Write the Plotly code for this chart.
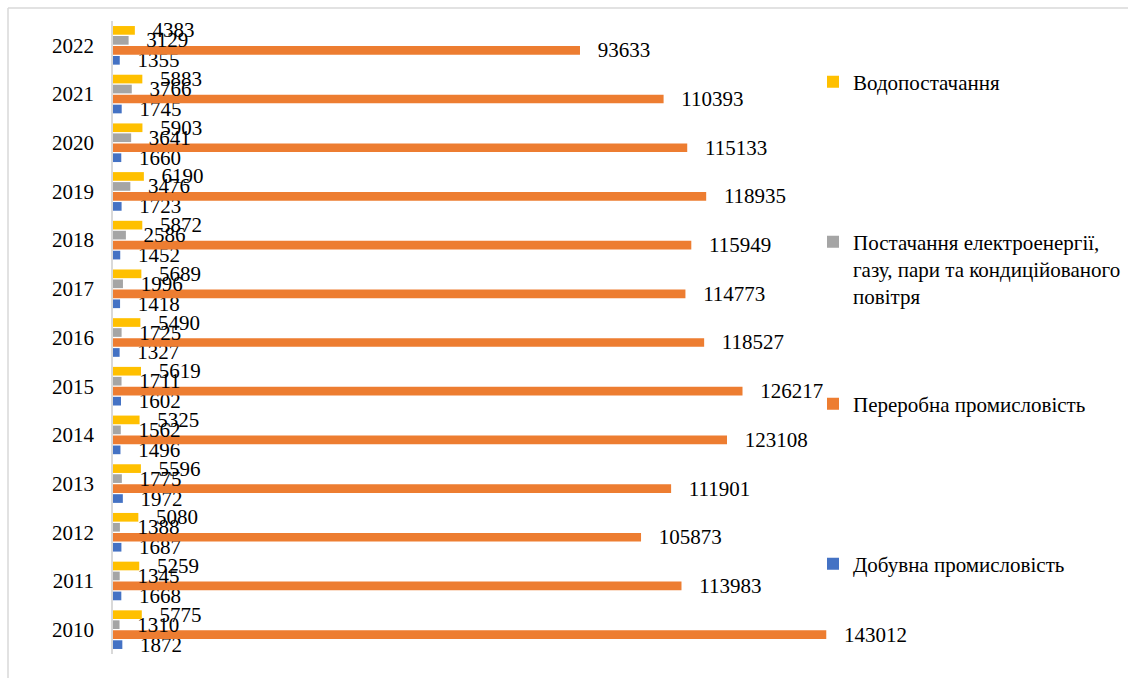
import plotly.graph_objects as go

years = ["2010", "2011", "2012", "2013", "2014", "2015", "2016", "2017", "2018", "2019", "2020", "2021", "2022"]
mining = [1872, 1668, 1687, 1972, 1496, 1602, 1327, 1418, 1452, 1723, 1660, 1745, 1355]
manufacturing = [143012, 113983, 105873, 111901, 123108, 126217, 118527, 114773, 115949, 118935, 115133, 110393, 93633]
energy = [1310, 1345, 1388, 1775, 1562, 1711, 1725, 1996, 2586, 3476, 3641, 3766, 3129]
water = [5775, 5259, 5080, 5596, 5325, 5619, 5490, 5689, 5872, 6190, 5903, 5883, 4383]

names = [
    "Добувна промисловість",
    "Переробна промисловість",
    "Постачання електроенергії,<br>газу, пари та кондиційованого<br>повітря",
    "Водопостачання",
]
colors = ["#4472C4", "#ED7D31", "#A5A5A5", "#FFC000"]
series = [mining, manufacturing, energy, water]
legends = ["legend4", "legend3", "legend2", "legend"]

FONT = "Liberation Serif, Times New Roman, serif"
W, H = 1128, 678
L, R, T, B = 113, 217, 21, 24

fig = go.Figure()
for nm, col, vals, lg in zip(names, colors, series, legends):
    fig.add_trace(go.Bar(
        y=years, x=vals, orientation="h", name=nm,
        marker=dict(color=col, line=dict(width=0)),
        text=[str(v) for v in vals], texttemplate="\u00a0\u00a0\u2009%{text}",
        textposition="outside", constraintext="none", cliponaxis=False,
        textfont=dict(family=FONT, size=21, color="#000000"),
        legend=lg, hoverinfo="x+y",
    ))

pw = W - L - R
ph = H - T - B

def px2paper(x, y):
    return (x - L) / pw, (H - B - y) / ph

x0, y0 = px2paper(8, 8)
x1, _ = px2paper(W + 5, 8)
_, y1 = px2paper(8, H + 5)
border = "#D9D9D9"
shapes = [
    dict(type="line", xref="paper", yref="paper", x0=x0, y0=y0, x1=x1, y1=y0,
         line=dict(color=border, width=1.5)),
    dict(type="line", xref="paper", yref="paper", x0=x0, y0=y0, x1=x0, y1=y1,
         line=dict(color=border, width=1.5)),
]

legfont = dict(family=FONT, size=21, color="#000000")
lx = (853 - 40) / W

def leg(ycenter_px, valign="middle"):
    return dict(xref="container", yref="container", x=lx, xanchor="left",
                y=1 - (ycenter_px - 1) / H, yanchor="middle", font=legfont,
                bgcolor="rgba(0,0,0,0)", borderwidth=0, valign=valign,
                itemwidth=30)

fig.update_layout(
    width=W, height=H,
    margin=dict(l=L, r=R, t=T, b=B, autoexpand=False),
    paper_bgcolor="white", plot_bgcolor="white",
    barmode="group", bargap=0.18, bargroupgap=0.13,
    font=dict(family=FONT, size=21, color="#000000"),
    xaxis=dict(range=[0, 160000], visible=False, showgrid=False, zeroline=False),
    yaxis=dict(type="category", categoryorder="array", categoryarray=years,
               showline=True, linecolor=border, linewidth=1.5,
               showgrid=False, zeroline=False, ticks="",
               ticklabelstandoff=13, automargin=False,
               tickfont=dict(family=FONT, size=21, color="#000000")),
    showlegend=True,
    legend=leg(83),
    legend2=leg(270, "top"),
    legend3=leg(405),
    legend4=leg(565),
    shapes=shapes,
)

fig.write_html(
    "out.html",
    config={"displayModeBar": False},
    post_script="document.body.style.margin='0px';document.body.style.overflow='hidden';",
)
